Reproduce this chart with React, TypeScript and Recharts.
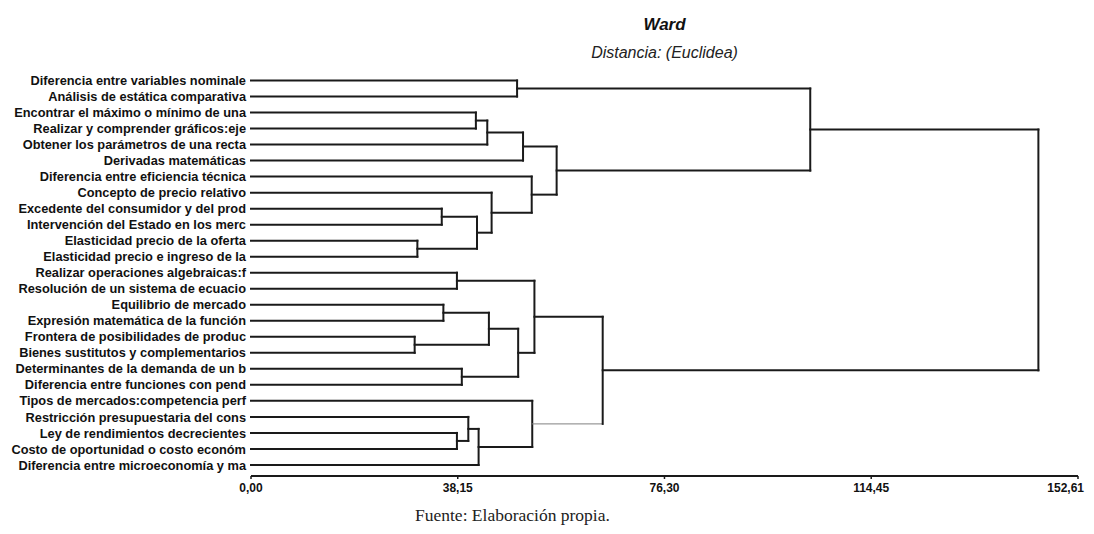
import React from "react";
import { ScatterChart, Scatter, XAxis, YAxis } from "recharts";

// hojas del dendrograma, de arriba hacia abajo
const leaves = [
  "Diferencia entre variables nominale",
  "Análisis de estática comparativa",
  "Encontrar el máximo o mínimo de una",
  "Realizar y comprender gráficos:eje",
  "Obtener los parámetros de una recta",
  "Derivadas matemáticas",
  "Diferencia entre eficiencia técnica",
  "Concepto de precio relativo",
  "Excedente del consumidor y del prod",
  "Intervención del Estado en los merc",
  "Elasticidad precio de la oferta",
  "Elasticidad precio e ingreso de la",
  "Realizar operaciones algebraicas:f",
  "Resolución de un sistema de ecuacio",
  "Equilibrio de mercado",
  "Expresión matemática de la función",
  "Frontera de posibilidades de produc",
  "Bienes sustitutos y complementarios",
  "Determinantes de la demanda de un b",
  "Diferencia entre funciones con pend",
  "Tipos de mercados:competencia perf",
  "Restricción presupuestaria del cons",
  "Ley de rendimientos decrecientes",
  "Costo de oportunidad o costo económ",
  "Diferencia entre microeconomía y ma",
];

// fusiones: [hijo A, hijo B, distancia]; los grupos nuevos toman id 25, 26, ...
const merges: [number, number, number][] = [
  [16, 17, 30.2],
  [10, 11, 30.7],
  [8, 9, 35.2],
  [14, 15, 35.5],
  [12, 13, 38.0],
  [22, 23, 38.0],
  [18, 19, 38.9],
  [21, 30, 40.1],
  [2, 3, 41.5],
  [27, 26, 41.7],
  [32, 24, 42.0],
  [33, 4, 43.6],
  [28, 25, 43.9],
  [7, 34, 44.4],
  [0, 1, 49.1],
  [37, 31, 49.3],
  [36, 5, 50.2],
  [6, 38, 51.8],
  [20, 35, 51.9],
  [29, 40, 52.3],
  [41, 42, 56.4],
  [44, 43, 64.9],
  [39, 45, 103.2],
  [47, 46, 145.3],
];

const xTicks = [0, 38.15, 76.3, 114.45, 152.61];

const THIN = [43]; // rama horizontal dibujada en gris fino

type Pt = { x: number; y: number };

function buildSegments() {
  const n = leaves.length;
  const pos: number[] = leaves.map((_, i) => i);
  const h: number[] = leaves.map(() => 0);
  const segs: { id: number; pts: Pt[] }[] = [];
  merges.forEach(([a, b, d], k) => {
    [a, b].forEach((c) => {
      segs.push({ id: c, pts: [{ x: h[c], y: pos[c] }, { x: d, y: pos[c] }] });
    });
    segs.push({ id: -1, pts: [{ x: d, y: pos[a] }, { x: d, y: pos[b] }] });
    pos[n + k] = (pos[a] + pos[b]) / 2;
    h[n + k] = d;
  });
  return segs;
}

const segments = buildSegments();

const noShape = () => <g />;

const font = "'Liberation Sans', Arial, sans-serif";

const LeafTick = (props: any) => {
  const { x, y, payload } = props;
  return (
    <text
      x={x - 5}
      y={y}
      dy="0.36em"
      textAnchor="end"
      fontSize={12.8}
      fontWeight="bold"
      fontFamily={font}
      fill="#111"
    >
      {leaves[payload.value]}
    </text>
  );
};

const DistTick = (props: any) => {
  const { x, y, payload } = props;
  const last = payload.value === xTicks[xTicks.length - 1];
  return (
    <text
      x={last ? x + 6 : x}
      y={y}
      dy="0.71em"
      textAnchor={last ? "end" : "middle"}
      fontSize={12}
      fontWeight="bold"
      fontFamily={font}
      fill="#111"
    >
      {payload.value.toFixed(2).replace(".", ",")}
    </text>
  );
};

export default function App() {
  return (
    <div style={{ position: "relative", width: 1078, height: 524 }}>
      <div
        style={{
          position: "absolute",
          left: 243,
          width: 827,
          top: 7,
          textAlign: "center",
          font: `italic bold 17px ${font}`,
          color: "#111",
        }}
      >
        Ward
      </div>
      <div
        style={{
          position: "absolute",
          left: 243,
          width: 827,
          top: 36,
          textAlign: "center",
          font: `italic 16px ${font}`,
          color: "#222",
        }}
      >
        Distancia: (Euclidea)
      </div>
      <ScatterChart
        width={1078}
        height={505}
        margin={{ top: 64.5, right: 8, bottom: 7, left: 0 }}
      >
        <XAxis
          type="number"
          dataKey="x"
          domain={[0, 152.61]}
          ticks={xTicks}
          interval={0}
          height={30}
          axisLine={{ stroke: "#1a1a1a", strokeWidth: 2 }}
          tickLine={{ stroke: "#1a1a1a", strokeWidth: 1.5 }}
          tickSize={3}
          tickMargin={4}
          tick={<DistTick />}
        />
        <YAxis
          type="number"
          dataKey="y"
          domain={[-0.5, 24.69]}
          reversed
          ticks={leaves.map((_, i) => i)}
          interval={0}
          width={243}
          axisLine={false}
          tickLine={false}
          tickSize={0}
          tickMargin={0}
          tick={<LeafTick />}
        />
        {segments.map((s, i) => {
          const thin = THIN.includes(s.id);
          return (
            <Scatter
              key={i}
              data={s.pts}
              line={{
                stroke: thin ? "#808080" : "#1a1a1a",
                strokeWidth: thin ? 1 : 2,
                strokeLinecap: "square",
              }}
              lineType="joint"
              shape={noShape}
              isAnimationActive={false}
            />
          );
        })}
      </ScatterChart>
      <div
        style={{
          position: "absolute",
          left: 407,
          top: 497,
          whiteSpace: "nowrap",
          font: "17.5px 'Liberation Serif', serif",
          color: "#222",
        }}
      >
        Fuente: Elaboración propia.
      </div>
    </div>
  );
}
